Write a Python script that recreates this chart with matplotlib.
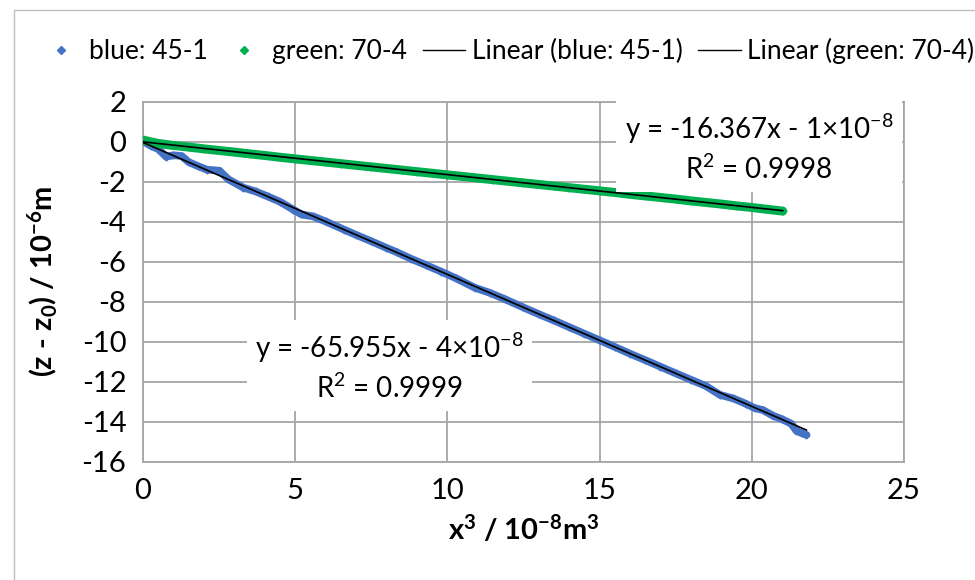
import matplotlib.pyplot as plt
from matplotlib.lines import Line2D
from matplotlib.patches import Rectangle

plt.rcParams['font.family'] = ['Lato', 'DejaVu Sans']
plt.rcParams['axes.unicode_minus'] = False
plt.rcParams['mathtext.fontset'] = 'custom'
plt.rcParams['mathtext.rm'] = 'Lato'
plt.rcParams['mathtext.it'] = 'Lato:italic'
plt.rcParams['mathtext.bf'] = 'Lato:bold'

# displacement vs x^3 (x in 10^-8 m^3, y in 10^-6 m)
blue_x = [0.0, 0.25, 0.5, 0.76, 1.0, 1.27, 1.5, 1.8, 2.1, 2.51, 2.8, 3.3, 3.7, 4.1,
          4.5, 4.94, 5.21, 5.6, 6.0, 6.61, 7.0, 7.5, 8.0, 8.33, 8.8, 9.3, 9.8, 10.3,
          10.9, 11.4, 11.9, 12.5, 13.0, 13.5, 14.0, 14.5, 15.0, 15.5, 16.0, 16.5,
          17.0, 17.5, 18.0, 18.5, 18.96, 19.4, 19.8, 20.1, 20.37, 20.7, 21.0, 21.3,
          21.47, 21.65, 21.8]
blue_y = [0.02, -0.20, -0.37, -0.75, -0.68, -0.72, -1.02, -1.22, -1.40, -1.45, -1.88,
          -2.30, -2.49, -2.74, -3.00, -3.40, -3.64, -3.74, -3.99, -4.40, -4.66, -4.98,
          -5.31, -5.52, -5.85, -6.17, -6.50, -6.84, -7.30, -7.56, -7.88, -8.29, -8.62,
          -8.94, -9.27, -9.60, -9.93, -10.26, -10.60, -10.92, -11.25, -11.58, -11.90,
          -12.22, -12.66, -12.84, -13.10, -13.32, -13.42, -13.70, -13.88, -14.10,
          -14.45, -14.58, -14.66]

green_x = [0, 0.5, 1, 1.5, 2, 2.5, 3, 3.5, 4, 4.5, 5, 5.5, 6, 6.5, 7, 7.5, 8, 8.5, 9,
           9.5, 10, 10.5, 11, 11.5, 12, 12.5, 13, 13.5, 14, 14.5, 15, 15.5, 16, 16.5,
           17, 17.5, 18, 18.5, 19, 19.5, 20, 20.5, 21.02]
green_y = [0.08, -0.09, -0.19, -0.27, -0.36, -0.44, -0.52, -0.61, -0.69, -0.78, -0.86,
           -0.94, -1.02, -1.10, -1.18, -1.26, -1.34, -1.42, -1.50, -1.58, -1.66, -1.74,
           -1.82, -1.90, -1.98, -2.06, -2.14, -2.22, -2.30, -2.38, -2.46, -2.54, -2.63,
           -2.71, -2.79, -2.87, -2.96, -3.04, -3.12, -3.21, -3.29, -3.38, -3.47]

# trendline coefficients (slope in 10^-6 m per 10^-8 m^3, intercept in 10^-6 m)
blue_slope, blue_icpt = -0.65955, -0.04
green_slope, green_icpt = -0.16367, -0.01

blue_c = '#4472C4'
green_c = '#00B050'
grid_c = '#A6A6A6'

fig = plt.figure(figsize=(9.75, 5.8), dpi=100)
ax = fig.add_axes([0.1467, 0.204, 0.7803, 0.6207])

fig.patches.append(Rectangle((0.0144, -0.1), 1.2, 1.083, transform=fig.transFigure,
                             fill=False, edgecolor='#BFBFBF', lw=1))

ax.plot(blue_x, blue_y, color=blue_c, lw=5.5, marker='D', ms=3.5, zorder=3,
        solid_capstyle='round', solid_joinstyle='round')
ax.plot(green_x, green_y, color=green_c, lw=6.5, marker='D', ms=3.5, zorder=3,
        solid_capstyle='round', solid_joinstyle='round')

bx = [0, max(blue_x)]
gx = [0, max(green_x)]
ax.plot(bx, [blue_slope * v + blue_icpt for v in bx], color='black', lw=1.2, zorder=4)
ax.plot(gx, [green_slope * v + green_icpt for v in gx], color='black', lw=1.2, zorder=4)

ax.set_xlim(0, 25)
ax.set_ylim(-16, 2)
ax.set_xticks(range(0, 26, 5))
ax.set_yticks(range(-16, 3, 2))
ax.grid(True, color=grid_c, lw=1.3)
ax.set_axisbelow(True)
for s in ax.spines.values():
    s.set_color(grid_c)
    s.set_linewidth(1.3)
ax.tick_params(length=0, labelsize=21, pad=12)
ax.tick_params(axis='x', pad=12)

ax.set_xlabel(r'x$^{\mathbf{3}}$ / 10$^{\mathbf{-8}}$m$^{\mathbf{3}}$',
              fontsize=21, fontweight='bold', labelpad=6)
ax.set_ylabel(r'(z - z$_{\mathbf{0}}$) / 10$^{\mathbf{-6}}$m',
              fontsize=21, fontweight='bold', labelpad=16)

box = dict(facecolor='white', edgecolor='none', pad=6)
ax.text(8.1, -11.25, 'y = -65.955x - 4×10$^{-8}$\nR$^2$ = 0.9999', ha='center',
        va='center', fontsize=20, linespacing=1.35, bbox=box, zorder=5)
ax.text(20.24, -0.3, 'y = -16.367x - 1×10$^{-8}$\nR$^2$ = 0.9998', ha='center',
        va='center', fontsize=20, linespacing=1.35, bbox=box, zorder=5)

handles = [
    Line2D([], [], ls='none', marker='D', ms=4, color=blue_c),
    Line2D([], [], ls='none', marker='D', ms=4, color=green_c),
    Line2D([], [], color='black', lw=1),
    Line2D([], [], color='black', lw=1),
]
labels = ['blue: 45-1', 'green: 70-4', 'Linear (blue: 45-1)', 'Linear (green: 70-4)']
fig.legend(handles, labels, loc='center', bbox_to_anchor=(0.52, 0.912), ncol=4,
           frameon=False, fontsize=19, handlelength=1.6, handletextpad=0.25,
           columnspacing=0.6)

fig.savefig('out.png', dpi=100)
